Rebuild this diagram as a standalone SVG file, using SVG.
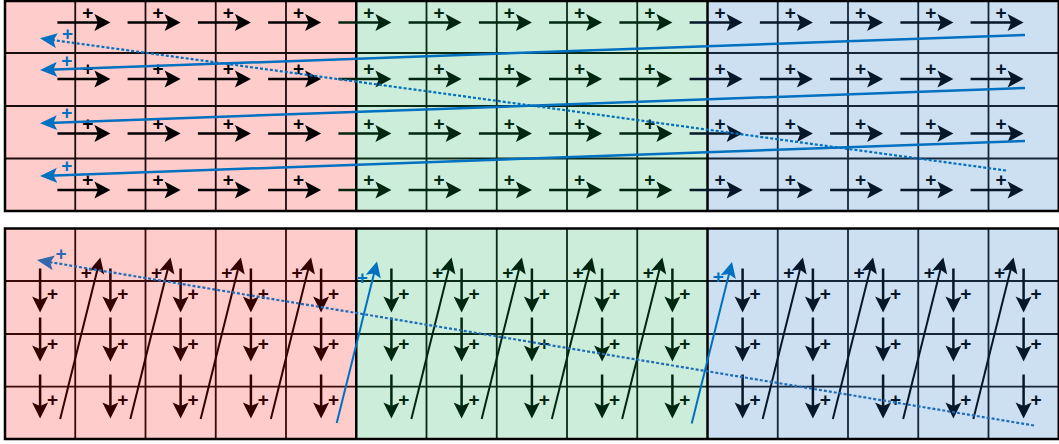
<svg xmlns="http://www.w3.org/2000/svg" width="1059" height="444" viewBox="0 0 1059 444">
<style>
.k{color:#000;fill:#000}
.r{color:#330000;fill:#330000}
.g{color:#002610;fill:#002610}
.n{color:#061729;fill:#061729}
.b{color:#0070c0;fill:#0070c0}
.bd{color:#2e68b0;fill:#2e68b0}
text{font-family:"Liberation Sans",Arial,sans-serif;font-weight:bold;font-size:19px;text-anchor:middle}
.fp{fill:#ffcccc}
.fg{fill:#ccedda}
.fb{fill:#cce0f2}
.gp{stroke:#1a0d0d;stroke-width:1.8;fill:none}
.gpr{stroke:#3a0a0a;stroke-width:1.8;fill:none}
.gg{stroke:#0b2a16;stroke-width:1.8;fill:none}
.gb{stroke:#15263a;stroke-width:1.8;fill:none}
.edge{stroke:#000;stroke-width:2.5;fill:none}
.blue{stroke:#0070c0;stroke-width:2.5;fill:none}
.dot{stroke:#0070c0;stroke-width:2.2;stroke-dasharray:3 2;fill:none}
.dot2{stroke:#1f6cba;stroke-width:2.2;stroke-dasharray:3 2;fill:none}
</style>
<defs>
<g id="ha"><line x1="-53" y1="0" x2="-10" y2="0" stroke="currentColor" stroke-width="2.5"/><path d="M-16,-8.5 L0,0 L-16,8.5 L-12.5,0 Z" fill="currentColor"/></g>
<g id="va"><line x1="0" y1="-44" x2="0" y2="-10" stroke="currentColor" stroke-width="2.5"/><path d="M-8,-16 L0,0 L8,-16 L0,-12.5 Z" fill="currentColor"/></g>
<g id="da"><line x1="-40.25" y1="161.5" x2="-2.4" y2="9.7" stroke="currentColor" stroke-width="2"/><path d="M3.8,17 L0,0 L-11.3,13.3 L-3.1,12.1 Z" fill="currentColor"/></g>
<marker id="mb" viewBox="0 0 17 15" refX="9" refY="7.5" markerWidth="17" markerHeight="15" markerUnits="userSpaceOnUse" orient="auto"><path d="M0,0 L17,7.5 L0,15 L3.5,7.5 Z" fill="#0070c0"/></marker>
<marker id="mb2" viewBox="0 0 17 15" refX="9" refY="7.5" markerWidth="17" markerHeight="15" markerUnits="userSpaceOnUse" orient="auto"><path d="M0,0 L17,7.5 L0,15 L3.5,7.5 Z" fill="#3366aa"/></marker>
</defs>

<g id="top-panel">
<rect class="fp" x="5" y="1" width="351.25" height="210"/>
<rect class="fg" x="356.25" y="1" width="351.25" height="210"/>
<rect class="fb" x="707.5" y="1" width="351.25" height="210"/>
<path class="gp" d="M75.25,1V211M145.5,1V211M215.75,1V211M286,1V211M5,53H356.25M5,106H356.25M5,158.5H356.25"/>
<path class="gg" d="M426.5,1V211M496.75,1V211M567,1V211M637.25,1V211M356.25,53H707.5M356.25,106H707.5M356.25,158.5H707.5"/>
<path class="gb" d="M777.75,1V211M848,1V211M918.25,1V211M988.5,1V211M707.5,53H1058.75M707.5,106H1058.75M707.5,158.5H1058.75"/>
<path class="edge" d="M356.25,1V211M707.5,1V211"/>
<rect class="edge" x="5" y="1" width="1053.75" height="210"/>
</g>

<g id="bottom-panel">
<rect class="fp" x="5" y="228.5" width="351.25" height="210.5"/>
<rect class="fg" x="356.25" y="228.5" width="351.25" height="210.5"/>
<rect class="fb" x="707.5" y="228.5" width="351.25" height="210.5"/>
<path class="gpr" d="M75.25,228.5V439M145.5,228.5V439M215.75,228.5V439M286,228.5V439M5,281H356.25M5,334H356.25M5,386.7H356.25"/>
<path class="gg" d="M426.5,228.5V439M496.75,228.5V439M567,228.5V439M637.25,228.5V439M356.25,281H707.5M356.25,334H707.5M356.25,386.7H707.5"/>
<path class="gb" d="M777.75,228.5V439M848,228.5V439M918.25,228.5V439M988.5,228.5V439M707.5,281H1058.75M707.5,334H1058.75M707.5,386.7H1058.75"/>
<path class="edge" d="M356.25,228.5V439M707.5,228.5V439"/>
<rect class="edge" x="5" y="228.5" width="1053.75" height="210.5"/>
</g>

<g id="connectors">
<g id="top-pink-arrows" class="k">
<use href="#ha" x="110.4" y="22.5"/><use href="#ha" x="180.6" y="22.5"/><use href="#ha" x="250.9" y="22.5"/><use href="#ha" x="321.1" y="22.5"/>
<use href="#ha" x="110.4" y="79"/><use href="#ha" x="180.6" y="79"/><use href="#ha" x="250.9" y="79"/><use href="#ha" x="321.1" y="79"/>
<use href="#ha" x="110.4" y="133.5"/><use href="#ha" x="180.6" y="133.5"/><use href="#ha" x="250.9" y="133.5"/><use href="#ha" x="321.1" y="133.5"/>
<use href="#ha" x="110.4" y="190"/><use href="#ha" x="180.6" y="190"/><use href="#ha" x="250.9" y="190"/><use href="#ha" x="321.1" y="190"/>
<text x="87.9" y="18.7">+</text><text x="158.1" y="18.7">+</text><text x="228.4" y="18.7">+</text><text x="298.6" y="18.7">+</text>
<text x="87.9" y="75.2">+</text><text x="158.1" y="75.2">+</text><text x="228.4" y="75.2">+</text><text x="298.6" y="75.2">+</text>
<text x="87.9" y="129.7">+</text><text x="158.1" y="129.7">+</text><text x="228.4" y="129.7">+</text><text x="298.6" y="129.7">+</text>
<text x="87.9" y="186.2">+</text><text x="158.1" y="186.2">+</text><text x="228.4" y="186.2">+</text><text x="298.6" y="186.2">+</text>
</g>
<g id="top-green-arrows" class="g">
<use href="#ha" x="391.4" y="22.5"/><use href="#ha" x="461.6" y="22.5"/><use href="#ha" x="531.9" y="22.5"/><use href="#ha" x="602.1" y="22.5"/><use href="#ha" x="672.4" y="22.5"/>
<use href="#ha" x="391.4" y="79"/><use href="#ha" x="461.6" y="79"/><use href="#ha" x="531.9" y="79"/><use href="#ha" x="602.1" y="79"/><use href="#ha" x="672.4" y="79"/>
<use href="#ha" x="391.4" y="133.5"/><use href="#ha" x="461.6" y="133.5"/><use href="#ha" x="531.9" y="133.5"/><use href="#ha" x="602.1" y="133.5"/><use href="#ha" x="672.4" y="133.5"/>
<use href="#ha" x="391.4" y="190"/><use href="#ha" x="461.6" y="190"/><use href="#ha" x="531.9" y="190"/><use href="#ha" x="602.1" y="190"/><use href="#ha" x="672.4" y="190"/>
<text x="368.9" y="18.7">+</text><text x="439.1" y="18.7">+</text><text x="509.4" y="18.7">+</text><text x="579.6" y="18.7">+</text><text x="649.9" y="18.7">+</text>
<text x="368.9" y="75.2">+</text><text x="439.1" y="75.2">+</text><text x="509.4" y="75.2">+</text><text x="579.6" y="75.2">+</text><text x="649.9" y="75.2">+</text>
<text x="368.9" y="129.7">+</text><text x="439.1" y="129.7">+</text><text x="509.4" y="129.7">+</text><text x="579.6" y="129.7">+</text><text x="649.9" y="129.7">+</text>
<text x="368.9" y="186.2">+</text><text x="439.1" y="186.2">+</text><text x="509.4" y="186.2">+</text><text x="579.6" y="186.2">+</text><text x="649.9" y="186.2">+</text>
</g>
<g id="top-blue-arrows" class="n">
<use href="#ha" x="742.6" y="22.5"/><use href="#ha" x="812.9" y="22.5"/><use href="#ha" x="883.1" y="22.5"/><use href="#ha" x="953.4" y="22.5"/><use href="#ha" x="1023.6" y="22.5"/>
<use href="#ha" x="742.6" y="79"/><use href="#ha" x="812.9" y="79"/><use href="#ha" x="883.1" y="79"/><use href="#ha" x="953.4" y="79"/><use href="#ha" x="1023.6" y="79"/>
<use href="#ha" x="742.6" y="133.5"/><use href="#ha" x="812.9" y="133.5"/><use href="#ha" x="883.1" y="133.5"/><use href="#ha" x="953.4" y="133.5"/><use href="#ha" x="1023.6" y="133.5"/>
<use href="#ha" x="742.6" y="190"/><use href="#ha" x="812.9" y="190"/><use href="#ha" x="883.1" y="190"/><use href="#ha" x="953.4" y="190"/><use href="#ha" x="1023.6" y="190"/>
<text x="720.1" y="18.7">+</text><text x="790.4" y="18.7">+</text><text x="860.6" y="18.7">+</text><text x="930.9" y="18.7">+</text><text x="1001.1" y="18.7">+</text>
<text x="720.1" y="75.2">+</text><text x="790.4" y="75.2">+</text><text x="860.6" y="75.2">+</text><text x="930.9" y="75.2">+</text><text x="1001.1" y="75.2">+</text>
<text x="720.1" y="129.7">+</text><text x="790.4" y="129.7">+</text><text x="860.6" y="129.7">+</text><text x="930.9" y="129.7">+</text><text x="1001.1" y="129.7">+</text>
<text x="720.1" y="186.2">+</text><text x="790.4" y="186.2">+</text><text x="860.6" y="186.2">+</text><text x="930.9" y="186.2">+</text><text x="1001.1" y="186.2">+</text>
</g>
<g id="top-returns" class="b">
<line class="blue" x1="1025" y1="35" x2="48" y2="69.7" marker-end="url(#mb)"/>
<line class="blue" x1="1025" y1="88" x2="48" y2="123" marker-end="url(#mb)"/>
<line class="blue" x1="1025" y1="141" x2="48" y2="175.7" marker-end="url(#mb)"/>
<line class="dot" x1="1006" y1="170.5" x2="47.9" y2="39.4" marker-end="url(#mb)"/>
<text x="67.5" y="39.7">+</text><text x="66.7" y="66.7">+</text><text x="66.7" y="119.4">+</text><text x="66.7" y="171.7">+</text>
</g>

<g id="bottom-pink-arrows" class="r">
<use href="#va" x="40.1" y="312.5"/><use href="#va" x="40.1" y="361.5"/><use href="#va" x="40.1" y="418.5"/>
<use href="#va" x="110.4" y="312.5"/><use href="#va" x="110.4" y="361.5"/><use href="#va" x="110.4" y="418.5"/>
<use href="#va" x="180.6" y="312.5"/><use href="#va" x="180.6" y="361.5"/><use href="#va" x="180.6" y="418.5"/>
<use href="#va" x="250.9" y="312.5"/><use href="#va" x="250.9" y="361.5"/><use href="#va" x="250.9" y="418.5"/>
<use href="#va" x="321.1" y="312.5"/><use href="#va" x="321.1" y="361.5"/><use href="#va" x="321.1" y="418.5"/>
<use href="#da" x="100.4" y="257.5"/><use href="#da" x="170.6" y="257.5"/><use href="#da" x="240.9" y="257.5"/><use href="#da" x="311.1" y="257.5"/>
<text x="52.6" y="300.2">+</text><text x="52.6" y="350.2">+</text><text x="52.6" y="406.2">+</text>
<text x="122.9" y="300.2">+</text><text x="122.9" y="350.2">+</text><text x="122.9" y="406.2">+</text>
<text x="193.1" y="300.2">+</text><text x="193.1" y="350.2">+</text><text x="193.1" y="406.2">+</text>
<text x="263.4" y="300.2">+</text><text x="263.4" y="350.2">+</text><text x="263.4" y="406.2">+</text>
<text x="333.6" y="300.2">+</text><text x="333.6" y="350.2">+</text><text x="333.6" y="406.2">+</text>
<text x="86.4" y="279.2">+</text><text x="156.6" y="279.2">+</text><text x="226.9" y="279.2">+</text><text x="297.1" y="279.2">+</text>
</g>
<g id="bottom-green-arrows" class="g">
<use href="#va" x="391.4" y="312.5"/><use href="#va" x="391.4" y="361.5"/><use href="#va" x="391.4" y="418.5"/>
<use href="#va" x="461.6" y="312.5"/><use href="#va" x="461.6" y="361.5"/><use href="#va" x="461.6" y="418.5"/>
<use href="#va" x="531.9" y="312.5"/><use href="#va" x="531.9" y="361.5"/><use href="#va" x="531.9" y="418.5"/>
<use href="#va" x="602.1" y="312.5"/><use href="#va" x="602.1" y="361.5"/><use href="#va" x="602.1" y="418.5"/>
<use href="#va" x="672.4" y="312.5"/><use href="#va" x="672.4" y="361.5"/><use href="#va" x="672.4" y="418.5"/>
<use href="#da" x="451.6" y="257.5"/><use href="#da" x="521.9" y="257.5"/><use href="#da" x="592.1" y="257.5"/><use href="#da" x="662.4" y="257.5"/>
<text x="403.9" y="300.2">+</text><text x="403.9" y="350.2">+</text><text x="403.9" y="406.2">+</text>
<text x="474.1" y="300.2">+</text><text x="474.1" y="350.2">+</text><text x="474.1" y="406.2">+</text>
<text x="544.4" y="300.2">+</text><text x="544.4" y="350.2">+</text><text x="544.4" y="406.2">+</text>
<text x="614.6" y="300.2">+</text><text x="614.6" y="350.2">+</text><text x="614.6" y="406.2">+</text>
<text x="684.9" y="300.2">+</text><text x="684.9" y="350.2">+</text><text x="684.9" y="406.2">+</text>
<text x="437.6" y="279.2">+</text><text x="507.9" y="279.2">+</text><text x="578.1" y="279.2">+</text><text x="648.4" y="279.2">+</text>
</g>
<g id="bottom-blue-arrows" class="n">
<use href="#va" x="742.6" y="312.5"/><use href="#va" x="742.6" y="361.5"/><use href="#va" x="742.6" y="418.5"/>
<use href="#va" x="812.9" y="312.5"/><use href="#va" x="812.9" y="361.5"/><use href="#va" x="812.9" y="418.5"/>
<use href="#va" x="883.1" y="312.5"/><use href="#va" x="883.1" y="361.5"/><use href="#va" x="883.1" y="418.5"/>
<use href="#va" x="953.4" y="312.5"/><use href="#va" x="953.4" y="361.5"/><use href="#va" x="953.4" y="418.5"/>
<use href="#va" x="1023.6" y="312.5"/><use href="#va" x="1023.6" y="361.5"/><use href="#va" x="1023.6" y="418.5"/>
<use href="#da" x="802.9" y="257.5"/><use href="#da" x="873.1" y="257.5"/><use href="#da" x="943.4" y="257.5"/><use href="#da" x="1013.6" y="257.5"/>
<text x="755.1" y="300.2">+</text><text x="755.1" y="350.2">+</text><text x="755.1" y="406.2">+</text>
<text x="825.4" y="300.2">+</text><text x="825.4" y="350.2">+</text><text x="825.4" y="406.2">+</text>
<text x="895.6" y="300.2">+</text><text x="895.6" y="350.2">+</text><text x="895.6" y="406.2">+</text>
<text x="965.9" y="300.2">+</text><text x="965.9" y="350.2">+</text><text x="965.9" y="406.2">+</text>
<text x="1036.1" y="300.2">+</text><text x="1036.1" y="350.2">+</text><text x="1036.1" y="406.2">+</text>
<text x="788.9" y="279.2">+</text><text x="859.1" y="279.2">+</text><text x="929.4" y="279.2">+</text><text x="999.6" y="279.2">+</text>
</g>
<g id="bottom-region-jumps" class="b">
<use href="#da" x="377" y="261.5"/><use href="#da" x="732" y="262"/>
<text x="362.3" y="284">+</text><text x="718.3" y="283.4">+</text>
</g>
<g id="bottom-return" class="bd">
<line class="dot2" x1="1034" y1="425.5" x2="44.9" y2="261.3" marker-end="url(#mb2)"/>
<text x="61" y="260.2">+</text>
</g>
</g>
</svg>
